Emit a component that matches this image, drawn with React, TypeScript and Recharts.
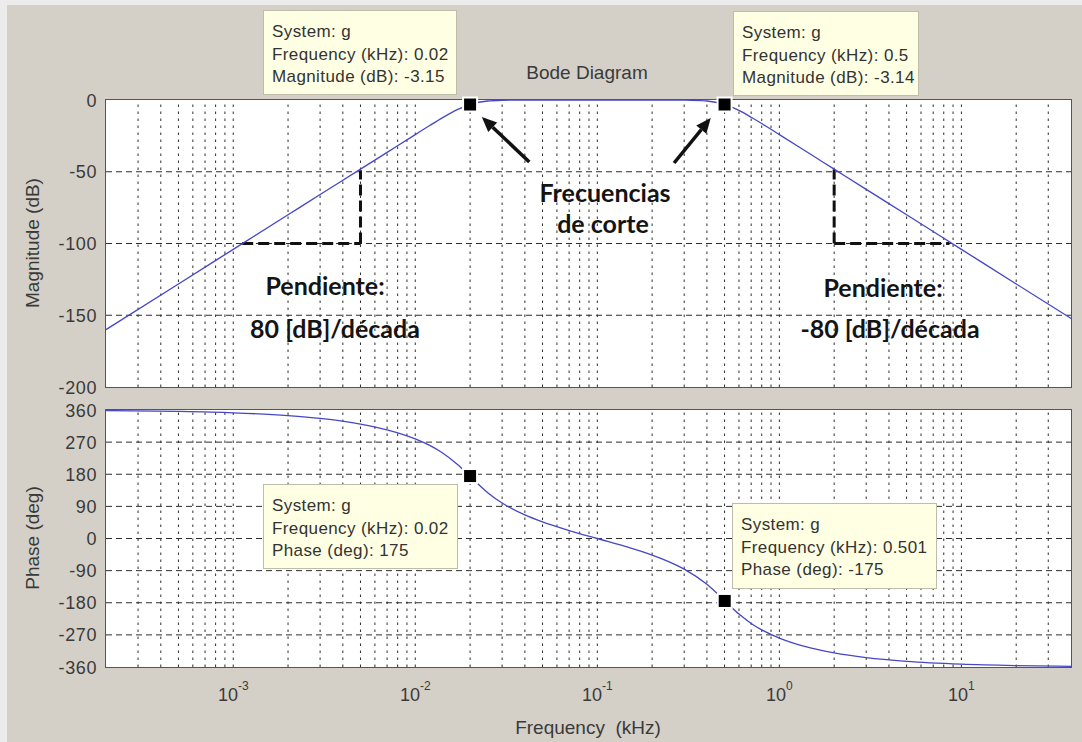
import React from 'react';
import { LineChart, Line, XAxis, YAxis, ReferenceLine, ReferenceDot } from 'recharts';

// ---------- data ----------
const freqKHz = [0.0002, 0.0005, 0.001, 0.002, 0.003, 0.005, 0.007, 0.01, 0.012, 0.014, 0.017, 0.02, 0.025, 0.03, 0.04, 0.05, 0.07, 0.1, 0.15, 0.2, 0.25, 0.3, 0.4, 0.5, 0.6, 0.7, 0.8, 1, 1.5, 2, 3, 5, 10, 20, 40];
const magnitudeDb = [-160, -128.2, -104.1, -80, -65.9, -48.2, -36.5, -24.1, -17.8, -12.6, -6.7, -3.15, -0.7, -0.2, 0, 0, 0, 0, 0, 0, 0, -0.1, -0.7, -3.14, -7.2, -12.0, -16.4, -24.1, -38.2, -48.2, -62.3, -80, -104.1, -128.2, -152.2];
const phaseDeg = [358.4, 356.1, 352.2, 344.4, 336.6, 320.7, 304.5, 279.0, 260.7, 240.9, 208.0, 174.0, 128.4, 99.3, 66.0, 46.4, 22.3, 0, -25.5, -46.4, -66.0, -85.7, -128.4, -174.0, -211.8, -237.9, -256.0, -279.0, -307.3, -320.7, -333.9, -344.4, -352.2, -356.1, -358.1];

const freqDomain = [0.0002, 40];
const magDomain = [-200, 0];
const phaseDomain = [-360, 360];
const magTicks = [-200, -150, -100, -50, 0];
const phaseTicks = [-360, -270, -180, -90, 0, 90, 180, 270, 360];
const decadeTicks = [0.001, 0.01, 0.1, 1, 10];
const gridDecades = [0.0001, 0.001, 0.01, 0.1, 1, 10];
const gridMultipliers = [1, 2, 3, 4, 5, 6, 7, 8, 9];

// datatips
const magTipFreq = [0.02, 0.5];
const magTipValue = [-3.15, -3.14];
const magTipFreqLabel = ['0.02', '0.5'];
const phaseTipFreq = [0.02, 0.501];
const phaseTipValue = [175, -175];
const phaseTipFreqLabel = ['0.02', '0.501'];

// slope annotations (dashed triangles) and arrows, in data units
const slopeSegments = [
  [{ x: 0.00112, y: -100 }, { x: 0.005, y: -100 }],
  [{ x: 0.005, y: -100 }, { x: 0.005, y: -49 }],
  [{ x: 2, y: -100 }, { x: 8.6, y: -100 }],
  [{ x: 2, y: -100 }, { x: 2, y: -48.5 }],
];
const arrowSegments = [
  [{ x: 0.0423, y: -43.2 }, { x: 0.0232, y: -11.8 }],
  [{ x: 0.264, y: -43.9 }, { x: 0.42, y: -12.5 }],
];

const rows = freqKHz.map((f, i) => ({ f, mag: magnitudeDb[i], ph: phaseDeg[i] }));
const gridFreqs = gridDecades
  .flatMap((d) => gridMultipliers.map((m) => +(d * m).toPrecision(6)))
  .filter((f) => f > freqDomain[0] * 1.001 && f < freqDomain[1] * 0.999);

// ---------- styling ----------
const FONT = "'Liberation Sans', Arial, Helvetica, sans-serif";
const TEXT = '#3a3a3a';
const GRID = '#2e2e2e';
const LINE_COLOR = '#4646c8';
const BG = '#D4D0C8';

const YTick = (p: any) => (
  <text x={p.x} y={p.y} dy={6.5} textAnchor="end" fill={TEXT} fontSize={18} fontFamily={FONT} letterSpacing={0.6}>
    {p.payload.value}
  </text>
);

const DecadeTick = (p: any) => {
  const exp = Math.round(Math.log10(p.payload.value));
  return (
    <text x={p.x} y={p.y + 34} textAnchor="middle" fill={TEXT} fontSize={18} fontFamily={FONT}>
      10
      <tspan dy={-11} fontSize={12}>{String(exp)}</tspan>
    </text>
  );
};

const Marker = (p: any) => (
  <g>
    <rect x={p.cx - 8} y={p.cy - 8} width={16} height={16} fill="#ffffff" />
    <rect x={p.cx - 6} y={p.cy - 6} width={12} height={12} fill="#000000" />
  </g>
);

const Arrow = (p: any) => {
  const { x1, y1, x2, y2 } = p;
  const ang = Math.atan2(y2 - y1, x2 - x1);
  const L = 15;
  const W = 6.5;
  const bx = x2 - L * Math.cos(ang);
  const by = y2 - L * Math.sin(ang);
  const px = -Math.sin(ang) * W;
  const py = Math.cos(ang) * W;
  return (
    <g>
      <line x1={x1} y1={y1} x2={bx} y2={by} stroke="#111" strokeWidth={3.5} />
      <polygon points={`${x2},${y2} ${bx + px},${by + py} ${bx - px},${by - py}`} fill="#111" />
    </g>
  );
};

const tipStyle: React.CSSProperties = {
  position: 'absolute',
  background: '#FFFFE4',
  border: '1px solid #bdbdaa',
  boxSizing: 'border-box',
  fontFamily: FONT,
  fontSize: 17,
  letterSpacing: 0.4,
  color: '#333',
  lineHeight: '22.5px',
  padding: '10px 0 0 8px',
  whiteSpace: 'pre',
};

const noteStyle: React.CSSProperties = {
  position: 'absolute',
  transform: 'translate(-50%, -50%)',
  fontFamily: "Lato, 'Open Sans', sans-serif",
  fontWeight: 700,
  fontSize: 25,
  color: '#141414',
  whiteSpace: 'pre',
  lineHeight: 1,
};

const plotBox = (top: number, height: number): React.CSSProperties => ({
  position: 'absolute',
  left: 105,
  top,
  width: 967,
  height,
  background: '#ffffff',
  border: '1px solid #555',
  boxSizing: 'border-box',
});

export default function App() {
  return (
    <div style={{ position: 'absolute', left: 0, top: 0, width: 1082, height: 742, background: '#ececec', overflow: 'hidden' }}>
      <div style={{ position: 'absolute', left: 7, top: 5, width: 1075, height: 737, background: BG }} />
      <div style={plotBox(99, 289)} />
      <div style={plotBox(409, 259)} />

      {/* Magnitude */}
      <div style={{ position: 'absolute', left: 0, top: 0 }}>
        <LineChart width={1082} height={400} data={rows} margin={{ top: 100, right: 11, bottom: 13, left: 46 }}>
          <XAxis dataKey="f" type="number" scale="log" domain={freqDomain} allowDataOverflow hide />
          <YAxis
            type="number"
            domain={magDomain}
            ticks={magTicks}
            interval={0}
            width={60}
            axisLine={false}
            tickLine={false}
            tickSize={0}
            tickMargin={9}
            tick={<YTick />}
            allowDataOverflow
          />
          {gridFreqs.map((f) => (
            <ReferenceLine key={'vm' + f} x={f} stroke={GRID} strokeDasharray="2.5 4.5" strokeWidth={1} />
          ))}
          {magTicks.slice(1, -1).map((v) => (
            <ReferenceLine key={'hm' + v} y={v} stroke={GRID} strokeDasharray="6 4" strokeWidth={1} />
          ))}
          {slopeSegments.map((s, i) => (
            <ReferenceLine key={'s' + i} segment={s} stroke="#111" strokeWidth={3} strokeDasharray="11 5" />
          ))}
          <Line dataKey="mag" type="monotone" stroke={LINE_COLOR} strokeWidth={1.3} dot={false} isAnimationActive={false} />
          {arrowSegments.map((s, i) => (
            <ReferenceLine key={'a' + i} segment={s} shape={<Arrow />} />
          ))}
          {magTipFreq.map((f, i) => (
            <ReferenceDot key={'md' + i} x={f} y={magTipValue[i]} r={6} shape={<Marker />} />
          ))}
        </LineChart>
      </div>

      {/* Phase */}
      <div style={{ position: 'absolute', left: 0, top: 400 }}>
        <LineChart width={1082} height={342} data={rows} margin={{ top: 10, right: 11, bottom: 45, left: 46 }}>
          <XAxis
            dataKey="f"
            type="number"
            scale="log"
            domain={freqDomain}
            ticks={decadeTicks}
            interval={0}
            allowDataOverflow
            height={30}
            axisLine={false}
            tickLine={false}
            tickSize={0}
            tickMargin={0}
            tick={<DecadeTick />}
          />
          <YAxis
            type="number"
            domain={phaseDomain}
            ticks={phaseTicks}
            interval={0}
            width={60}
            axisLine={false}
            tickLine={false}
            tickSize={0}
            tickMargin={9}
            tick={<YTick />}
            allowDataOverflow
          />
          {gridFreqs.map((f) => (
            <ReferenceLine key={'vp' + f} x={f} stroke={GRID} strokeDasharray="2.5 4.5" strokeWidth={1} />
          ))}
          {phaseTicks.slice(1, -1).map((v) => (
            <ReferenceLine key={'hp' + v} y={v} stroke={GRID} strokeDasharray="6 4" strokeWidth={1} />
          ))}
          <Line dataKey="ph" type="monotone" stroke={LINE_COLOR} strokeWidth={1.3} dot={false} isAnimationActive={false} />
          {phaseTipFreq.map((f, i) => (
            <ReferenceDot key={'pd' + i} x={f} y={phaseTipValue[i]} r={6} shape={<Marker />} />
          ))}
        </LineChart>
      </div>

      {/* title and axis titles */}
      <div style={{ position: 'absolute', left: 587, top: 73, transform: 'translate(-50%, -50%)', fontFamily: FONT, fontSize: 19, color: TEXT, whiteSpace: 'pre' }}>
        Bode Diagram
      </div>
      <div style={{ position: 'absolute', left: 588, top: 728, transform: 'translate(-50%, -50%)', fontFamily: FONT, fontSize: 19, color: TEXT, whiteSpace: 'pre' }}>
        {'Frequency  (kHz)'}
      </div>
      <div style={{ position: 'absolute', left: 33, top: 243, transform: 'translate(-50%, -50%) rotate(-90deg)', fontFamily: FONT, fontSize: 19, color: TEXT, whiteSpace: 'pre' }}>
        Magnitude (dB)
      </div>
      <div style={{ position: 'absolute', left: 33, top: 538, transform: 'translate(-50%, -50%) rotate(-90deg)', fontFamily: FONT, fontSize: 19, color: TEXT, whiteSpace: 'pre' }}>
        Phase (deg)
      </div>

      {/* datatips */}
      <div style={{ ...tipStyle, left: 263, top: 10, width: 194, height: 85 }}>
        {`System: g\nFrequency (kHz): ${magTipFreqLabel[0]}\nMagnitude (dB): ${magTipValue[0]}`}
      </div>
      <div style={{ ...tipStyle, left: 733, top: 11, width: 186, height: 85 }}>
        {`System: g\nFrequency (kHz): ${magTipFreqLabel[1]}\nMagnitude (dB): ${magTipValue[1]}`}
      </div>
      <div style={{ ...tipStyle, left: 263, top: 484, width: 195, height: 85 }}>
        {`System: g\nFrequency (kHz): ${phaseTipFreqLabel[0]}\nPhase (deg): ${phaseTipValue[0]}`}
      </div>
      <div style={{ ...tipStyle, left: 732, top: 503, width: 205, height: 86 }}>
        {`System: g\nFrequency (kHz): ${phaseTipFreqLabel[1]}\nPhase (deg): ${phaseTipValue[1]}`}
      </div>

      {/* annotations */}
      <div style={{ ...noteStyle, left: 325, top: 285 }}>Pendiente:</div>
      <div style={{ ...noteStyle, left: 335, top: 328 }}>80 [dB]/década</div>
      <div style={{ ...noteStyle, left: 883, top: 287 }}>Pendiente:</div>
      <div style={{ ...noteStyle, left: 890, top: 328 }}>-80 [dB]/década</div>
      <div style={{ ...noteStyle, left: 605, top: 192 }}>Frecuencias</div>
      <div style={{ ...noteStyle, left: 603, top: 223 }}>de corte</div>
    </div>
  );
}
